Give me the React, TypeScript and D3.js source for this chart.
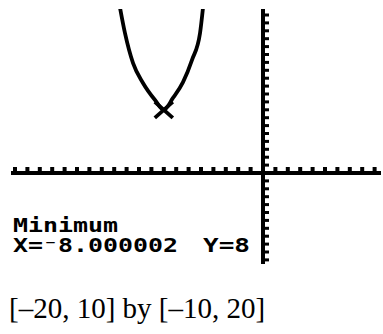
import React from 'react';
import * as d3 from 'd3';

// window of the calculator screen
const xWindow = [-20, 10];
const yWindow = [-10, 20];

// points
const curveX = [-11.6, -11.13, -10.48, -9.68, -8.71, -8, -7.26, -6.45, -5.73, -5.08, -4.8];
const curveY = [21.5, 17.7, 13.9, 11.4, 9.24, 8, 9.5, 11.5, 14.3, 17.7, 21.5];

// the minimum found by the calculator
const minX = -8;
const minY = 8;

const labelTitle = 'Minimum';
const labelX = 'X=\u207B8.000002';
const labelY = 'Y=8';
const caption = '[\u201320, 10] by [\u201310, 20]';

const W = 383;
const H = 334;

const App = () => {
  const xScale = d3.scaleLinear().domain(xWindow).range([15, 387]);
  const yScale = d3.scaleLinear().domain(yWindow).range([252, 15]);

  const left = 11;
  const right = 381;
  const top = 9;
  const bottom = 264;

  const x0 = xScale(0);
  const y0 = yScale(0);

  const xTicks = d3.range(Math.ceil(xScale.invert(left)), Math.floor(xScale.invert(right)) + 1)
    .filter(d => d !== 0);
  const yTicks = d3.range(Math.ceil(yScale.invert(bottom)), Math.floor(yScale.invert(top)) + 1)
    .filter(d => d !== 0);

  const pts: [number, number][] = curveX.map((x, i) => [x, curveY[i]]);
  const line = d3.line<[number, number]>()
    .x(d => xScale(d[0]))
    .y(d => yScale(d[1]))
    .curve(d3.curveMonotoneX);

  const mx = xScale(minX);
  const my = yScale(minY);

  return (
    <svg width={W} height={H} style={{ position: 'absolute', left: 0, top: 0, background: '#fff' }}>
      <defs>
        <clipPath id="screen">
          <rect x={left} y={top} width={right - left} height={bottom - top} />
        </clipPath>
      </defs>

      {/* x axis */}
      <rect x={left} y={y0 - 2} width={right - left} height={4} fill="#000" />
      {xTicks.map(t => (
        <rect key={'xt' + t} x={xScale(t) - 2} y={y0 - 6} width={4} height={4} fill="#000" />
      ))}

      {/* y axis */}
      <rect x={x0 - 2} y={top} width={4} height={bottom - top} fill="#000" />
      {yTicks.map(t => (
        <rect key={'yt' + t} x={x0 + 2} y={yScale(t) - 1.5} width={4} height={3} fill="#000" />
      ))}

      {/* graph */}
      <g clipPath="url(#screen)">
        <path d={line(pts) || ''} fill="none" stroke="#000" strokeWidth={3.8} />
        <line x1={mx - 9} y1={my - 8} x2={mx + 9} y2={my + 8} stroke="#000" strokeWidth={3.8} />
        <line x1={mx + 9} y1={my - 8} x2={mx - 9} y2={my + 8} stroke="#000" strokeWidth={3.8} />
      </g>

      {/* calculator readout */}
      <g fontFamily="'DejaVu Sans Mono', monospace" fontWeight="bold" fontSize={19} fill="#000">
        <text x={13} y={232} textLength={105} lengthAdjust="spacingAndGlyphs">{labelTitle}</text>
        <text x={13} y={252} textLength={165} lengthAdjust="spacingAndGlyphs">{labelX}</text>
        <text x={203} y={252} textLength={47} lengthAdjust="spacingAndGlyphs">{labelY}</text>
      </g>

      <text x={9} y={318} fontFamily="'Liberation Serif', 'Times New Roman', serif" fontSize={29} fill="#000">
        {caption}
      </text>
    </svg>
  );
};

export default App;
